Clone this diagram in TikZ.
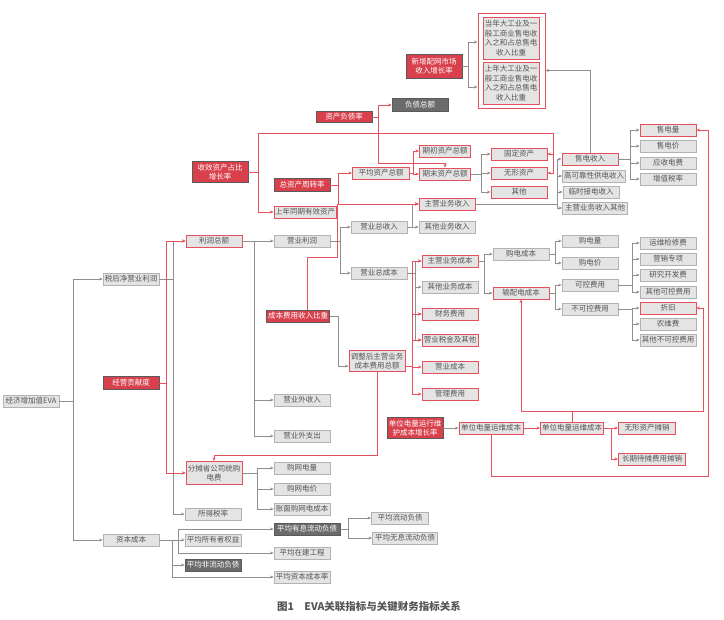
\documentclass[tikz,border=0pt]{standalone}
\usepackage{fontspec}
\setmainfont{Noto Sans CJK SC}
\usetikzlibrary{arrows.meta}
\definecolor{boxgray}{HTML}{E4E4E4}
\definecolor{boxline}{HTML}{B2B2B2}
\definecolor{txtgray}{HTML}{555555}
\definecolor{redfill}{HTML}{D8404C}
\definecolor{redline}{HTML}{E5505C}
\definecolor{darkfill}{HTML}{6B6B6B}
\definecolor{darkline}{HTML}{5A5A5A}
\definecolor{lineg}{HTML}{8F8F8F}
\definecolor{capgray}{HTML}{555555}
\tikzset{
  box/.style={draw=boxline,fill=boxgray,line width=0.8pt,text=txtgray,font=\fontsize{7.5}{9.5}\selectfont,align=center,minimum width=56pt,minimum height=12pt,inner sep=1pt},
  rbox/.style={box,draw=redline,line width=0.9pt},
  rfill/.style={box,draw=darkline,fill=redfill,text=white},
  dfill/.style={box,draw=darkline,fill=darkfill,text=white},
  gl/.style={draw=lineg,line width=0.7pt},
  rl/.style={draw=redline,line width=0.8pt}
}

\begin{document}
\begin{tikzpicture}[x=1pt,y=-1pt,>={Stealth[length=3.5pt,width=3pt]}]
\useasboundingbox (0,0) rectangle (724,620);
% left column
\node[box] (eva) at (31,401) {经济增加值EVA};
\node[box] (shq) at (131,279) {税后净营业利润};
\node[rfill,minimum height=13pt] (jyg) at (131,383) {经营贡献度};
\node[box] (zbcb) at (131,540) {资本成本};
% profit branch
\node[rbox] (lrze) at (214,241) {利润总额};
\node[box] (yylr) at (302,241) {营业利润};
\node[box] (yywsr) at (302,400) {营业外收入};
\node[box] (yywzc) at (302,436) {营业外支出};
\node[rbox,minimum height=23pt] (ftsgs) at (214,473) {分摊省公司统购\\电费};
\node[box] (gwdl) at (302,468) {购网电量};
\node[box] (gwdj) at (302,489) {购网电价};
\node[box] (zmgw) at (302,509) {账面购网电成本};
\node[box] (sdsl) at (213,514) {所得税率};
% capital cost branch
\node[box] (pjsyz) at (213,540) {平均所有者权益};
\node[dfill,minimum width=66pt] (pjyx) at (307,529) {平均有息流动负债};
\node[box] (pjzj) at (302,553) {平均在建工程};
\node[dfill] (pjfld) at (213,565) {平均非流动负债};
\node[box] (pjzbcb) at (302,577) {平均资本成本率};
\node[box,minimum width=57pt] (pjld) at (400,518) {平均流动负债};
\node[box,minimum width=65pt] (pjwx) at (405,538) {平均无息流动负债};
% revenue and cost
\node[box] (yyzsr) at (379,227) {营业总收入};
\node[box] (yyzcb) at (379,273) {营业总成本};
\node[rbox] (zyywsr) at (447,204) {主营业务收入};
\node[box] (qtywsr) at (447,227) {其他业务收入};
\node[rbox] (zyywcb) at (450,261) {主营业务成本};
\node[box] (qtywcb) at (450,287) {其他业务成本};
\node[rbox] (cwfy) at (450,314) {财务费用};
\node[rbox] (yysj) at (450,340) {营业税金及其他};
\node[rbox] (yycb) at (450,367) {营业成本};
\node[rbox] (glfy) at (450,394) {管理费用};
\node[rfill,minimum width=63pt] (cbfy) at (298,316) {成本费用收入比重};
\node[rbox,minimum height=21pt] (tzh) at (377,361) {调整后主营业务\\成本费用总额};
\node[box] (gdcb) at (521,254) {购电成本};
\node[rbox] (spdcb) at (521,293) {输配电成本};
\node[box] (gdl) at (590,241) {购电量};
\node[box] (gdj) at (590,263) {购电价};
\node[box] (kkfy) at (590,285) {可控费用};
\node[box] (bkkfy) at (590,309) {不可控费用};
\node[box] (ywjx) at (668,243) {运维检修费};
\node[box] (yxzx) at (668,259) {营销专项};
\node[box] (yjkf) at (668,275) {研究开发费};
\node[box] (qtkk) at (668,292) {其他可控费用};
\node[rbox] (zj) at (668,308) {折旧};
\node[box] (nwf) at (668,324) {农维费};
\node[box] (qtbkk) at (668,340) {其他不可控费用};
% unit maintenance cost
\node[rfill,minimum height=21pt] (dwyx) at (415,428) {单位电量运行维\\护成本增长率};
\node[rbox,minimum width=64pt] (dwyw1) at (491,428) {单位电量运维成本};
\node[rbox,minimum width=63pt] (dwyw2) at (572,428) {单位电量运维成本};
\node[rbox,minimum width=57pt] (wxtx) at (647,428) {无形资产摊销};
\node[rbox,minimum width=67pt] (cqdt) at (652,459) {长期待摊费用摊销};
% sales and assets
\node[rbox] (sdsr) at (590,159) {售电收入};
\node[box,minimum width=63pt] (gkk) at (594,176) {高可靠性供电收入};
\node[box] (lsjd) at (591,192) {临时接电收入};
\node[box,minimum width=65pt] (zyqt) at (595,208) {主营业务收入其他};
\node[rbox] (sdl) at (668,130) {售电量};
\node[box] (sdj) at (668,146) {售电价};
\node[box] (ysdf) at (668,163) {应收电费};
\node[box] (zzsl) at (668,179) {增值税率};
\node[rbox] (gdzc) at (519,154) {固定资产};
\node[rbox] (wxzc) at (519,173) {无形资产};
\node[rbox] (qt) at (519,192) {其他};
\node[rbox,minimum width=51pt] (qczc) at (445,151) {期初资产总额};
\node[rbox,minimum width=51pt] (qmzc) at (445,174) {期末资产总额};
\node[rbox,minimum width=57pt] (pjzc) at (381,173) {平均资产总额};
\node[rfill,minimum height=13pt] (zzzz) at (302,185) {总资产周转率};
\node[rbox,minimum width=61pt] (sntq) at (305,212) {上年同期有效资产};
\node[rfill,minimum height=21pt] (syzc) at (220,172) {收效资产占比\\增长率};
\node[rfill,minimum height=11pt] (zcfz) at (344,117) {资产负债率};
\node[dfill,minimum height=13pt] (fzze) at (420,105) {负债总额};
\node[rfill,minimum height=24pt] (xzpw) at (434,66) {新增配网市场\\收入增长率};
\node[draw=redline,line width=0.9pt,minimum width=67pt,minimum height=95pt] (zb) at (511.5,60.5) {};
\node[rbox,minimum height=42pt] (dn) at (511,38) {当年大工业及一\\般工商业售电收\\入之和占总售电\\收入比重};
\node[rbox,minimum height=42pt] (sn) at (511,83) {上年大工业及一\\般工商业售电收\\入之和占总售电\\收入比重};
\coordinate (r1) at (553,133);
\coordinate (r2) at (337,257);
% gray links
\draw[gl,->] (eva.east) -- ++(14,0) |- (shq.west);\draw[gl,->] (eva.east) -- ++(14,0) |- (zbcb.west);
\draw[gl,->] (shq.east) -- ++(14,0) |- (lrze.west);\draw[gl,->] (shq.east) -- ++(14,0) |- (ftsgs.west);
\draw[gl,->] (shq.east) -- ++(14,0) |- (sdsl.west);
\draw[gl,->] (lrze) -- (yylr);\draw[gl,->] (lrze.east) -- ++(12,0) |- (yywsr.west);
\draw[gl,->] (lrze.east) -- ++(12,0) |- (yywzc.west);
\draw[gl,->] (yylr.east) -- ++(10,0) |- (yyzsr.west);\draw[gl,->] (yylr.east) -- ++(10,0) |- (yyzcb.west);
\draw[gl,->] (yyzsr.east) -- ++(5,0) |- (zyywsr.west);\draw[gl,->] (yyzsr.east) -- ++(5,0) |- (qtywsr.west);
\foreach \t in {zyywcb,qtywcb,cwfy,yysj} \draw[gl,->] (yyzcb.east) -- ++(8,0) |- (\t.west);
\foreach \t in {sdsr,gkk,lsjd,zyqt} \draw[gl,->] (zyywsr.east) -- ++(82,0) |- (\t.west);
\foreach \t in {sdl,sdj,ysdf,zzsl} \draw[gl,->] (sdsr.east) -- ++(12,0) |- (\t.west);
\draw[gl,->] (sdsr.north) |- ([yshift=-10pt]zb.east);
\draw[gl,->] (xzpw.east) -- ++(6,0) |- ([yshift=-4pt]zb.west |- dn);\draw[gl,->] (xzpw.east) -- ++(6,0) |- ([yshift=-4pt]zb.west |- sn);
\foreach \t in {gdzc,wxzc,qt} \draw[gl,->] (qmzc.east) -- ++(10,0) |- (\t.west);
\draw[gl,->] (zyywcb.east) -- ++(6,0) |- (gdcb.west);\draw[gl,->] (zyywcb.east) -- ++(6,0) |- (spdcb.west);
\draw[gl,->] (gdcb.east) -- ++(6,0) |- (gdl.west);\draw[gl,->] (gdcb.east) -- ++(6,0) |- (gdj.west);
\draw[gl,->] (spdcb.east) -- ++(6,0) |- (kkfy.west);\draw[gl,->] (spdcb.east) -- ++(6,0) |- (bkkfy.west);
\foreach \t in {ywjx,yxzx,yjkf,qtkk} \draw[gl,->] (kkfy.east) -- ++(14,0) |- (\t.west);
\foreach \t in {zj,nwf,qtbkk} \draw[gl,->] (bkkfy.east) -- ++(14,0) |- (\t.west);
\draw[gl,->] (cbfy.east) -- ++(8,0) |- ([yshift=-5pt]tzh.west);
\foreach \t in {gwdl,gwdj,zmgw} \draw[gl,->] (ftsgs.east) -- ++(15,0) |- (\t.west);
\draw[gl,->] (zbcb) -- (pjsyz);
\draw[gl,->] (zbcb.east) -- ++(19,0) |- (pjyx.west);\draw[gl,->] (zbcb.east) -- ++(19,0) |- (pjzj.west);
\draw[gl,->] (zbcb.east) -- ++(13,0) |- (pjfld.west);\draw[gl,->] (zbcb.east) -- ++(13,0) |- (pjzbcb.west);
\draw[gl,->] (pjyx.east) -- ++(8,0) |- (pjld.west);\draw[gl,->] (pjyx.east) -- ++(8,0) |- (pjwx.west);
\draw[gl,->] (dwyx) -- (dwyw1);
% red links
\draw[rl,->] (jyg.east) -- ++(7,0) |- (lrze.west);\draw[rl,->] (jyg.east) -- ++(7,0) |- (ftsgs.west);
\draw[rl,->] (zcfz.east) -- ++(6,0) |- (fzze.west);
\draw[rl,->] (zcfz.east) -- ++(6,0) |- ([yshift=4pt]qmzc.north) -- (qmzc.north);
\draw[rl,->] (syzc.east) -- ++(10,0) |- (r1) |- (gdzc.east);\draw[rl,->] (r1) |- (wxzc.east);
\draw[rl,->] (syzc.east) -- ++(10,0) |- (sntq.west);
\draw[rl,->] (zzzz.east) -- ++(8,0) |- (pjzc.west);\draw[rl,->] (zzzz.east) -- ++(8,0) |- (zyywsr.west);
\draw[rl,->] ([xshift=9pt]cbfy.north) |- (r2) |- (zyywsr.west);
\draw[rl,->] (pjzc.east) -- ++(3,0) |- (qczc.west);\draw[rl,->] (pjzc.east) -- ++(3,0) |- (qmzc.west);
\foreach \t in {zyywcb,cwfy,yysj,yycb,glfy} \draw[rl,->] ([yshift=-5pt]tzh.east) -- ++(7,0) |- (\t.west);
\draw[rl,->] (tzh.south) |- ([yshift=6pt]ftsgs.north) -- (ftsgs.north);
\draw[rl,->] (dwyw1) -- (dwyw2);\draw[rl,->] (dwyw2) -- (wxtx);
\draw[rl,->] (dwyw2.east) -- ++(7,0) |- (cqdt.west);
\draw[rl,->] (dwyw2.north) -- ++(0,-10) -| (spdcb.south);
\draw[rl,->] (dwyw2.north) -- ++(0,-10) -| ([xshift=7pt]zj.east) -- (zj.east);
\draw[rl,->] (dwyw1.south) -- ++(0,42) -| ([xshift=12pt]sdl.east) -- (sdl.east);
% caption
\node[font=\bfseries\fontsize{10.5}{12}\selectfont,text=capgray] (cap) at (369,607) {图1\quad EVA关联指标与关键财务指标关系};
\end{tikzpicture}
\end{document}
